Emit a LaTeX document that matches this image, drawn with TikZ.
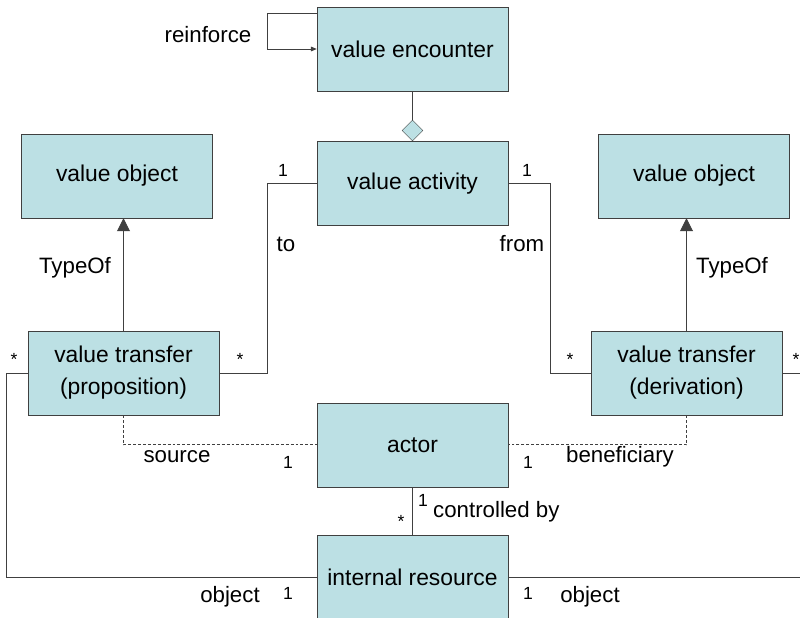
\documentclass[tikz,border=0pt]{standalone}
\usepackage{fontspec}
\setmainfont{Liberation Sans}
\usetikzlibrary{shapes.geometric}
\usetikzlibrary{arrows.meta}
\usetikzlibrary{positioning}
\definecolor{boxfill}{RGB}{188,224,228}
\definecolor{linegray}{RGB}{64,64,64}
\tikzstyle{classbox} = [rectangle, minimum width=5.73cm, minimum height=2.52cm, text centered, align=center,
  draw=linegray, fill=boxfill, inner sep=0pt, font=\fontsize{19.5}{27.3}\selectfont]
\tikzstyle{link} = [draw=linegray, line width=0.8pt]
\tikzstyle{typeof} = [link, -{Triangle[width=11pt,length=11pt]}]
\tikzstyle{selfref} = [link, -{Triangle[width=4pt,length=5pt]}]
\tikzstyle{optional} = [link, dash pattern=on 2.5pt off 1.7pt]
\tikzstyle{mult} = [font=\fontsize{15}{18}\selectfont, inner sep=0pt]
\tikzstyle{role} = [font=\fontsize{19}{22}\selectfont, inner sep=0pt]

\begin{document}
\begin{tikzpicture}[x=0.03cm, y=-0.03cm]
  \useasboundingbox (0,0) rectangle (800,618);
  % centre column
  \node (enc) [classbox] at (412.5,49) {value encounter};
  \node (act) [classbox, below=1.5cm of enc] {value activity};
  \node (actor) [classbox, below=5.31cm of act] {actor};
  \node (res) [classbox, below=1.44cm of actor] {internal resource};
  \node (agg) [diamond, draw=linegray, fill=boxfill, minimum size=0.63cm, inner sep=0pt, above=0pt of act] {};
  % sides
  \node (prop) [classbox] at (123.5,373) {value transfer\\(proposition)};
  \node (der) [classbox] at (686.5,373) {value transfer\\(derivation)};
  \node (vol) [classbox] at (117,176) {value object};
  \node (vor) [classbox] at (694,176) {value object};

  \draw [selfref] ([yshift=-0.21cm]enc.north west) -- ++(-49,0) |- (enc.west);
  \draw [link] (enc.south) -- (agg.north);
  \draw [link] (act.west) -- ++(-49,0) |- (prop.east);
  \draw [link] (act.east) -- ++(42,0) |- (der.west);
  \draw [typeof] (prop.north) -- (prop.north |- vol.south);
  \draw [typeof] (der.north) -- (der.north |- vor.south);
  \draw [optional] (prop.south) |- (actor.west);
  \draw [optional] (der.south) |- (actor.east);
  \draw [link] (actor.south) -- (res.north);
  \draw [link] (prop.west) -- ++(-21,0) |- (res.west);
  \draw [link] (der.east) -- ++(30,0) |- (res.east);

  % labels
  \node (lreinf) [role] at (208,35) {reinforce};
  \node (mto) [mult] at (283,170) {1};
  \node (lto) [role] at (286,244) {to};
  \node (mtostar) [mult] at (240,359) {*};
  \node (mfrom) [mult] at (527,170) {1};
  \node (lfrom) [role] at (522,244) {from};
  \node (mfromstar) [mult] at (570,359) {*};
  \node (lleft) [mult] at (14,359) {*};
  \node (lright) [mult] at (796,359) {*};
  \node (ltypel) [role] at (75,268) {TypeOf};
  \node (ltyper) [role] at (732,268) {TypeOf};
  \node (lsource) [role] at (177,457) {source};
  \node (msource) [mult] at (288,462) {1};
  \node (mbenef) [mult] at (528,462) {1};
  \node (lbenef) [role] at (620,457) {beneficiary};
  \node (mctrl) [mult] at (423,500) {1};
  \node (lctrl) [role, anchor=west] at (433,512) {controlled by};
  \node (mctrlstar) [mult] at (401,521) {*};
  \node (lobjl) [role] at (230,597) {object};
  \node (mobjl) [mult] at (288,593) {1};
  \node (mobjr) [mult] at (528,593) {1};
  \node (lobjr) [role] at (590,597) {object};
\end{tikzpicture}
\end{document}
